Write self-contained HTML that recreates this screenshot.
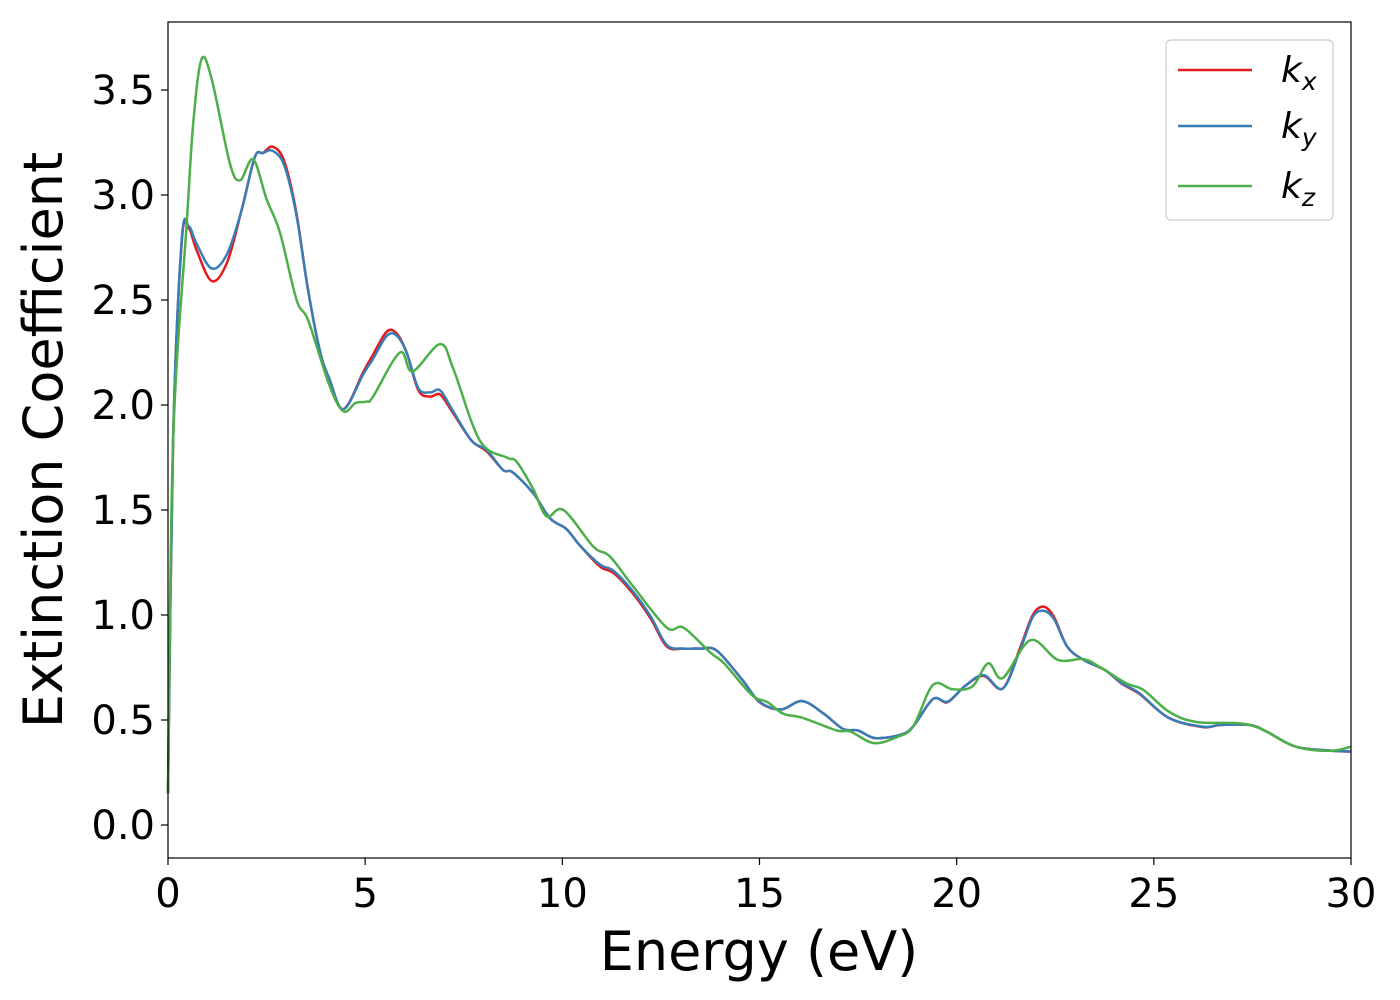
<!DOCTYPE html>
<html><head><meta charset="utf-8"><style>
html,body{margin:0;padding:0;background:#fff;}
svg{display:block;font-family:"DejaVu Sans","Liberation Sans",sans-serif;}
</style></head><body>
<svg id="chart" width="1400" height="1000" viewBox="0 0 1400 1000" xmlns="http://www.w3.org/2000/svg">
<rect x="0" y="0" width="1400" height="1000" fill="#fff"/>
<g id="series"></g>
<rect x="168" y="22" width="1183" height="836" fill="none" stroke="#000" stroke-width="1.2"/>
<g id="xticks"></g>
<g id="yticks"></g>
<text x="759" y="970" font-size="54" text-anchor="middle">Energy (eV)</text>
<text transform="translate(62,440) rotate(-90)" font-size="54" text-anchor="middle">Extinction Coefficient</text>
<g>
<rect x="1166" y="40" width="167" height="180" rx="5" fill="#fff" stroke="#ccc" stroke-width="1.2"/>
<g><line x1="1178" y1="70" x2="1252" y2="70" stroke="#e41a1c" stroke-width="2.5"/><text x="1281" y="82" font-size="36" font-style="italic">k<tspan font-size="25" dy="8">x</tspan></text></g>
<g><line x1="1178" y1="126" x2="1252" y2="126" stroke="#377eb8" stroke-width="2.5"/><text x="1281" y="138" font-size="36" font-style="italic">k<tspan font-size="25" dy="8">y</tspan></text></g>
<g><line x1="1178" y1="186" x2="1252" y2="186" stroke="#4daf4a" stroke-width="2.5"/><text x="1281" y="198" font-size="36" font-style="italic">k<tspan font-size="25" dy="8">z</tspan></text></g>
</g>
</svg>
<script>
const xTicks=[0,5,10,15,20,25,30];
const yTicks=[0.0,0.5,1.0,1.5,2.0,2.5,3.0,3.5];
const yTickLabels=["0.0","0.5","1.0","1.5","2.0","2.5","3.0","3.5"];
const eBlue=[0,0.13,0.35,0.53,0.72,1.11,1.5,1.87,2.2,2.41,2.66,2.95,3.25,3.55,3.85,4.1,4.45,4.96,5.2,5.55,5.8,6.05,6.35,6.65,6.9,7.2,7.7,8.08,8.5,8.74,9.26,9.69,10.1,10.45,10.96,11.3,11.8,12.25,12.65,13.07,13.5,13.92,14.57,15.0,15.54,16.08,16.63,17.12,17.5,17.93,18.58,18.9,19.4,19.77,20.2,20.68,21.17,21.6,21.93,22.2,22.47,22.8,23.22,23.76,24.19,24.63,25.38,26.25,26.68,27.44,27.87,28.6,29.5,30];
const kyVals=[0.15,1.83,2.79,2.85,2.77,2.65,2.72,2.93,3.18,3.2,3.21,3.14,2.91,2.55,2.26,2.12,1.98,2.15,2.22,2.33,2.33,2.25,2.08,2.06,2.07,1.98,1.83,1.786,1.69,1.68,1.58,1.46,1.41,1.33,1.24,1.21,1.11,0.99,0.857,0.84,0.84,0.83,0.69,0.587,0.55,0.59,0.53,0.457,0.45,0.414,0.43,0.47,0.6,0.587,0.66,0.714,0.65,0.83,0.99,1.02,0.98,0.85,0.786,0.738,0.675,0.628,0.51,0.468,0.476,0.476,0.444,0.373,0.354,0.35];
const kxVals=[0.15,1.83,2.78,2.84,2.74,2.59,2.68,2.93,3.18,3.2,3.23,3.16,2.92,2.55,2.26,2.12,1.98,2.16,2.24,2.35,2.34,2.25,2.07,2.04,2.05,1.97,1.83,1.78,1.69,1.68,1.58,1.46,1.41,1.33,1.23,1.2,1.1,0.98,0.85,0.84,0.84,0.83,0.69,0.585,0.55,0.59,0.53,0.457,0.45,0.414,0.43,0.47,0.6,0.585,0.66,0.71,0.65,0.84,1.0,1.04,0.99,0.85,0.786,0.738,0.672,0.625,0.51,0.466,0.476,0.476,0.444,0.373,0.354,0.35];
const eGreen=[0,0.13,0.47,0.64,0.85,1.11,1.57,1.83,2.16,2.5,2.84,3.26,3.56,4.1,4.45,4.76,5.04,5.2,5.88,6.2,6.9,7.24,7.91,8.59,8.84,9.26,9.6,10.03,10.79,11.2,11.8,12.65,13.07,13.76,14.1,14.8,15.2,15.6,16.1,16.96,17.3,17.9,18.5,18.9,19.4,19.9,20.4,20.8,21.17,21.87,22.57,23.22,23.65,24.3,24.74,25.38,26.1,27.44,28.6,29.5,30];
const kzVals=[0.15,1.83,2.85,3.34,3.646,3.55,3.15,3.07,3.17,2.98,2.82,2.5,2.4,2.09,1.97,2.01,2.016,2.04,2.25,2.16,2.29,2.17,1.83,1.75,1.73,1.6,1.47,1.5,1.325,1.28,1.135,0.94,0.94,0.82,0.77,0.62,0.585,0.53,0.51,0.45,0.445,0.39,0.42,0.47,0.667,0.646,0.66,0.77,0.7,0.88,0.786,0.79,0.75,0.675,0.643,0.54,0.49,0.476,0.373,0.354,0.373];
const NS="http://www.w3.org/2000/svg";
const X0=168,X1=1351,YB=825,YT=90;
function xs(e){return X0+(e/30)*(X1-X0);}
function ys(v){return YB-(v/3.5)*(YB-YT);}
function pathFor(es,vs){
  const p=es.map((e,i)=>[xs(e),ys(vs[i])]);
  let d="M"+p[0][0].toFixed(1)+","+p[0][1].toFixed(1);
  for(let i=0;i<p.length-1;i++){
    const a=p[Math.max(0,i-1)],b=p[i],c=p[i+1],n=p[Math.min(p.length-1,i+2)];
    const c1=[b[0]+(c[0]-a[0])/6,b[1]+(c[1]-a[1])/6];
    const c2=[c[0]-(n[0]-b[0])/6,c[1]-(n[1]-b[1])/6];
    d+="C"+c1[0].toFixed(1)+","+c1[1].toFixed(1)+" "+c2[0].toFixed(1)+","+c2[1].toFixed(1)+" "+c[0].toFixed(1)+","+c[1].toFixed(1);
  }
  return d;
}
const sg=document.getElementById("series");
[[eBlue,kxVals,"#e41a1c","line-kx"],[eBlue,kyVals,"#377eb8","line-ky"],[eGreen,kzVals,"#4daf4a","line-kz"]].forEach(s=>{
  const el=document.createElementNS(NS,"path");
  el.setAttribute("d",pathFor(s[0],s[1]));
  el.setAttribute("fill","none");el.setAttribute("stroke",s[2]);el.setAttribute("stroke-width","2.5");
  
  
  sg.appendChild(el);
});
const xg=document.getElementById("xticks");
xTicks.forEach(t=>{
  const l=document.createElementNS(NS,"line");
  l.setAttribute("x1",xs(t));l.setAttribute("x2",xs(t));l.setAttribute("y1",858);l.setAttribute("y2",865);l.setAttribute("stroke","#000");l.setAttribute("stroke-width","1.2");
  
  
  xg.appendChild(l);
  const tx=document.createElementNS(NS,"text");
  tx.setAttribute("x",xs(t));tx.setAttribute("y",907);tx.setAttribute("font-size","40");tx.setAttribute("text-anchor","middle");
  tx.textContent=String(t);
  
  
  xg.appendChild(tx);
});
const yg=document.getElementById("yticks");
yTicks.forEach((t,i)=>{
  const l=document.createElementNS(NS,"line");
  l.setAttribute("x1",161);l.setAttribute("x2",168);l.setAttribute("y1",ys(t));l.setAttribute("y2",ys(t));l.setAttribute("stroke","#000");l.setAttribute("stroke-width","1.2");
  
  
  yg.appendChild(l);
  const tx=document.createElementNS(NS,"text");
  tx.setAttribute("x",155);tx.setAttribute("y",ys(t)+14);tx.setAttribute("font-size","40");tx.setAttribute("text-anchor","end");
  tx.textContent=yTickLabels[i];
  
  
  yg.appendChild(tx);
});
</script>
</body></html>
